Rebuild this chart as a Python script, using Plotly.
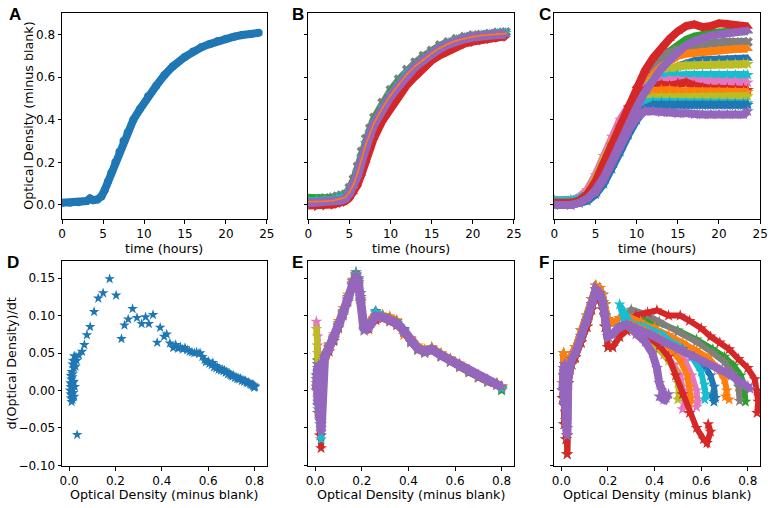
import plotly.graph_objects as go

BLUE, ORANGE, GREEN, RED, PURPLE = '#1f77b4', '#ff7f0e', '#2ca02c', '#d62728', '#9467bd'
BROWN, PINK, GRAY, OLIVE, CYAN = '#8c564b', '#e377c2', '#7f7f7f', '#bcbd22', '#17becf'

# ---- panel A: one well, OD vs time
a_time = [0, 1, 2, 3, 3.4, 3.8, 4.3, 4.8, 5.2, 5.6, 6, 6.5, 7, 7.5, 8, 8.7, 9.5, 10.5,
          11.5, 12.5, 13.5, 15, 16, 17, 18, 19, 20, 21, 22, 23, 24]
a_od = [0.010, 0.010, 0.012, 0.018, 0.030, 0.022, 0.025, 0.040, 0.070, 0.110, 0.150, 0.200,
        0.250, 0.300, 0.340, 0.400, 0.450, 0.510, 0.560, 0.610, 0.650, 0.695, 0.720, 0.740,
        0.755, 0.770, 0.780, 0.790, 0.798, 0.803, 0.808]

# ---- panel B: replicate wells
b_time = [0, 1, 2, 3, 3.5, 4, 4.5, 5, 5.5, 6, 6.5, 7, 7.5, 8, 9, 10, 11, 12, 13, 14, 15,
          16, 17, 18, 19, 20, 21, 22, 23, 24]
b_gray = [0.03, 0.03, 0.032, 0.035, 0.04, 0.045, 0.05, 0.08, 0.12, 0.18, 0.25, 0.31, 0.36, 0.41,
          0.48, 0.54, 0.59, 0.635, 0.67, 0.70, 0.725, 0.75, 0.765, 0.78, 0.79, 0.797, 0.80, 0.805,
          0.81, 0.812]
b_green = [0.035, 0.032, 0.03, 0.03, 0.035, 0.04, 0.045, 0.07, 0.11, 0.165, 0.235, 0.30, 0.35,
           0.40, 0.47, 0.53, 0.58, 0.625, 0.66, 0.69, 0.72, 0.745, 0.76, 0.775, 0.785, 0.79,
           0.797, 0.80, 0.805, 0.81]
b_red = [-0.005, -0.005, -0.003, 0.0, 0.005, 0.01, 0.015, 0.03, 0.055, 0.09, 0.14, 0.20, 0.26,
         0.31, 0.39, 0.45, 0.51, 0.56, 0.60, 0.64, 0.675, 0.70, 0.72, 0.74, 0.755, 0.765, 0.773,
         0.78, 0.785, 0.79]
b_cyan = [0.02, 0.02, 0.022, 0.025, 0.03, 0.035, 0.04, 0.065, 0.10, 0.155, 0.225, 0.29, 0.34,
          0.39, 0.46, 0.52, 0.57, 0.62, 0.655, 0.685, 0.715, 0.74, 0.76, 0.775, 0.785, 0.79,
          0.797, 0.80, 0.805, 0.808]
b_purple = [0.01, 0.01, 0.012, 0.015, 0.02, 0.022, 0.03, 0.055, 0.09, 0.14, 0.21, 0.28, 0.33,
            0.38, 0.45, 0.51, 0.56, 0.61, 0.65, 0.68, 0.71, 0.735, 0.755, 0.77, 0.78, 0.788,
            0.794, 0.798, 0.80, 0.80]
b_orange = [0.015, 0.015, 0.017, 0.02, 0.025, 0.03, 0.035, 0.06, 0.095, 0.15, 0.22, 0.285, 0.335,
            0.385, 0.455, 0.515, 0.565, 0.615, 0.652, 0.682, 0.712, 0.737, 0.757, 0.772, 0.782,
            0.79, 0.796, 0.80, 0.803, 0.805]

# ---- panel C: wells under different conditions
c_time = [0, 2, 3, 4, 5, 6, 7, 8, 9, 10, 11, 12, 13, 14, 15, 16, 17, 18, 19, 20, 21, 22, 23, 23.5]
c_series = [
    (GREEN, 'triangle-up', [0.02, 0.02, 0.025, 0.04, 0.09, 0.17, 0.26, 0.35, 0.43, 0.51, 0.57, 0.63, 0.68, 0.72, 0.75, 0.775, 0.79, 0.80, 0.805, 0.81, 0.815, 0.815, 0.815, 0.815]),
    (GRAY, 'x', [0.02, 0.02, 0.03, 0.05, 0.10, 0.18, 0.27, 0.36, 0.44, 0.51, 0.58, 0.64, 0.69, 0.715, 0.73, 0.74, 0.75, 0.755, 0.76, 0.762, 0.765, 0.765, 0.765, 0.765]),
    (ORANGE, 'triangle-up', [0.01, 0.015, 0.02, 0.04, 0.09, 0.17, 0.26, 0.35, 0.43, 0.50, 0.56, 0.61, 0.65, 0.68, 0.70, 0.71, 0.715, 0.72, 0.725, 0.728, 0.73, 0.732, 0.733, 0.733]),
    (BLUE, 'triangle-up', [0.0, 0.005, 0.01, 0.02, 0.05, 0.11, 0.19, 0.27, 0.35, 0.43, 0.50, 0.56, 0.60, 0.63, 0.65, 0.665, 0.675, 0.68, 0.682, 0.685, 0.685, 0.687, 0.688, 0.688]),
    (OLIVE, 'star', [0.01, 0.015, 0.025, 0.05, 0.10, 0.18, 0.27, 0.35, 0.43, 0.50, 0.55, 0.59, 0.62, 0.64, 0.65, 0.655, 0.655, 0.66, 0.66, 0.66, 0.66, 0.66, 0.662, 0.662]),
    (CYAN, 'star', [0.02, 0.02, 0.03, 0.05, 0.10, 0.18, 0.27, 0.36, 0.44, 0.50, 0.55, 0.58, 0.60, 0.605, 0.61, 0.61, 0.61, 0.612, 0.612, 0.61, 0.61, 0.61, 0.61, 0.61]),
    (PINK, 'star', [0.02, 0.02, 0.035, 0.07, 0.14, 0.23, 0.32, 0.40, 0.46, 0.51, 0.55, 0.57, 0.58, 0.585, 0.585, 0.58, 0.58, 0.58, 0.58, 0.578, 0.578, 0.578, 0.575, 0.575]),
    (RED, 'star', [0.0, 0.0, 0.01, 0.04, 0.10, 0.19, 0.28, 0.37, 0.44, 0.50, 0.54, 0.56, 0.565, 0.56, 0.57, 0.575, 0.56, 0.55, 0.545, 0.545, 0.545, 0.545, 0.545, 0.54]),
    (ORANGE, 'star', [0.01, 0.01, 0.025, 0.05, 0.11, 0.20, 0.29, 0.37, 0.43, 0.48, 0.52, 0.535, 0.54, 0.54, 0.535, 0.535, 0.53, 0.53, 0.53, 0.53, 0.53, 0.53, 0.53, 0.53]),
    (OLIVE, 'star', [0.01, 0.015, 0.025, 0.055, 0.12, 0.21, 0.30, 0.37, 0.43, 0.47, 0.50, 0.505, 0.505, 0.505, 0.505, 0.505, 0.505, 0.505, 0.505, 0.505, 0.505, 0.505, 0.505, 0.51]),
    (CYAN, 'star', [0.02, 0.02, 0.03, 0.05, 0.10, 0.18, 0.26, 0.34, 0.41, 0.46, 0.48, 0.485, 0.485, 0.485, 0.48, 0.48, 0.48, 0.48, 0.48, 0.48, 0.478, 0.478, 0.478, 0.478]),
    (BLUE, 'star', [0.0, 0.005, 0.01, 0.02, 0.05, 0.10, 0.17, 0.25, 0.33, 0.40, 0.45, 0.47, 0.47, 0.47, 0.47, 0.468, 0.468, 0.468, 0.468, 0.468, 0.468, 0.468, 0.468, 0.47]),
    (PURPLE, 'star', [0.0, 0.0, 0.01, 0.03, 0.06, 0.12, 0.20, 0.28, 0.35, 0.41, 0.44, 0.44, 0.435, 0.435, 0.43, 0.43, 0.425, 0.425, 0.425, 0.425, 0.425, 0.425, 0.425, 0.44]),
    (RED, 'triangle-up', [0.01, 0.01, 0.02, 0.05, 0.11, 0.20, 0.29, 0.38, 0.47, 0.56, 0.63, 0.69, 0.74, 0.78, 0.815, 0.84, 0.848, 0.835, 0.84, 0.853, 0.85, 0.842, 0.84, 0.838]),
    (PURPLE, 'triangle-up', [0.0, 0.0, 0.01, 0.03, 0.07, 0.13, 0.21, 0.30, 0.38, 0.46, 0.53, 0.59, 0.64, 0.68, 0.72, 0.75, 0.77, 0.785, 0.795, 0.80, 0.807, 0.812, 0.816, 0.818]),
]

# ---- panel D: growth rate vs OD for well in A
d_od = [0.005, 0.006, 0.007, 0.008, 0.008, 0.009, 0.01, 0.01, 0.011, 0.012, 0.012, 0.013, 0.014,
        0.015, 0.015, 0.016, 0.017, 0.018, 0.02, 0.02, 0.022, 0.025, 0.015, 0.018,
        0.022, 0.025, 0.03, 0.028, 0.033, 0.043, 0.056, 0.066, 0.077, 0.091, 0.108, 0.126, 0.147,
        0.175, 0.203, 0.035,
        0.226, 0.239, 0.255, 0.274, 0.293, 0.313, 0.330, 0.344, 0.362, 0.380, 0.393, 0.410, 0.421,
        0.435, 0.449,
        0.46, 0.47, 0.48, 0.49, 0.50, 0.51, 0.52, 0.53, 0.54, 0.55, 0.56, 0.565, 0.575, 0.585,
        0.59, 0.60, 0.605, 0.615, 0.62, 0.625, 0.63, 0.635, 0.64, 0.645, 0.65, 0.655, 0.66, 0.665,
        0.67, 0.675, 0.68, 0.685, 0.69, 0.695, 0.70, 0.705, 0.71, 0.715, 0.72, 0.725, 0.73, 0.735,
        0.74, 0.745, 0.75, 0.755, 0.76, 0.765, 0.77, 0.775, 0.78, 0.785, 0.79, 0.793, 0.796,
        0.798, 0.80, 0.802]
d_rate = [0.0, 0.01, -0.005, 0.02, 0.005, -0.01, 0.015, 0.0, -0.015, 0.025, 0.008, -0.005, 0.018,
          0.003, -0.012, 0.022, 0.01, -0.003, 0.012, 0.03, -0.008, 0.005, 0.035, 0.04,
          0.046, 0.038, 0.045, 0.032, 0.04, 0.047, 0.052, 0.061, 0.074, 0.085, 0.105, 0.123, 0.130,
          0.149, 0.127, -0.059,
          0.069, 0.087, 0.095, 0.109, 0.097, 0.089, 0.098, 0.089, 0.101, 0.064, 0.084, 0.072, 0.075,
          0.063, 0.057,
          0.061, 0.056, 0.058, 0.055, 0.057, 0.054, 0.052, 0.051, 0.050, 0.051, 0.049, 0.05, 0.045,
          0.041, 0.038, 0.039, 0.036, 0.034, 0.037, 0.031, 0.033, 0.03, 0.031, 0.028, 0.029, 0.027,
          0.028, 0.026, 0.027, 0.024, 0.025, 0.022, 0.023, 0.021, 0.02, 0.019, 0.02, 0.017, 0.018,
          0.016, 0.016, 0.015, 0.016, 0.013, 0.014, 0.012, 0.013, 0.011, 0.01, 0.011, 0.009, 0.008,
          0.008, 0.006, 0.007, 0.004, 0.006, 0.005]

# ---- panel E: growth rate vs OD for replicate wells
e_od = [0.005, 0.01, 0.012, 0.015, 0.02, 0.022, 0.025, 0.03, 0.04, 0.06, 0.08, 0.10, 0.12, 0.14,
        0.16, 0.175, 0.185, 0.195, 0.21, 0.23, 0.26, 0.29, 0.32, 0.35, 0.38, 0.41, 0.44, 0.47,
        0.50, 0.54, 0.58, 0.62, 0.66, 0.70, 0.74, 0.78, 0.80]
e_series = [
    (BLUE, [0.02, 0.035, -0.02, 0.04, -0.035, 0.02, -0.06, 0.03, 0.047, 0.057, 0.068, 0.085, 0.102, 0.12, 0.141, 0.158, 0.15, 0.13, 0.088, 0.09, 0.106, 0.1, 0.097, 0.093, 0.082, 0.068, 0.057, 0.053, 0.057, 0.049, 0.042, 0.034, 0.027, 0.02, 0.014, 0.009, 0.002]),
    (ORANGE, [0.01, 0.06, -0.01, 0.03, -0.03, 0.04, -0.045, 0.035, 0.05, 0.062, 0.075, 0.093, 0.11, 0.128, 0.148, 0.156, 0.14, 0.115, 0.085, 0.092, 0.104, 0.101, 0.099, 0.094, 0.074, 0.07, 0.06, 0.055, 0.058, 0.05, 0.043, 0.036, 0.028, 0.021, 0.015, 0.01, 0.006]),
    (GREEN, [0.015, 0.04, -0.015, 0.025, -0.035, 0.03, -0.05, 0.025, 0.048, 0.06, 0.072, 0.09, 0.106, 0.125, 0.146, 0.155, 0.142, 0.118, 0.083, 0.088, 0.1, 0.099, 0.096, 0.091, 0.081, 0.067, 0.057, 0.053, 0.056, 0.048, 0.041, 0.034, 0.027, 0.02, 0.014, 0.009, 0.0]),
    (RED, [0.005, 0.02, -0.03, 0.01, -0.06, 0.0, -0.077, 0.01, 0.04, 0.052, 0.066, 0.083, 0.1, 0.118, 0.14, 0.152, 0.148, 0.125, 0.09, 0.082, 0.094, 0.096, 0.092, 0.087, 0.078, 0.064, 0.054, 0.05, 0.053, 0.045, 0.038, 0.031, 0.024, 0.017, 0.011, 0.007, 0.004]),
    (PINK, [0.092, 0.072, 0.01, 0.03, -0.02, 0.02, -0.04, 0.025, 0.046, 0.059, 0.071, 0.088, 0.105, 0.123, 0.144, 0.153, 0.144, 0.119, 0.081, 0.086, 0.1, 0.097, 0.094, 0.089, 0.079, 0.066, 0.056, 0.052, 0.055, 0.047, 0.04, 0.033, 0.026, 0.019, 0.013, 0.008, 0.005]),
    (OLIVE, [0.082, 0.05, -0.01, 0.03, -0.03, 0.02, -0.045, 0.02, 0.045, 0.058, 0.07, 0.087, 0.104, 0.122, 0.143, 0.154, 0.145, 0.12, 0.08, 0.085, 0.099, 0.098, 0.095, 0.09, 0.08, 0.066, 0.056, 0.052, 0.055, 0.047, 0.04, 0.033, 0.026, 0.019, 0.013, 0.008, 0.005]),
    (CYAN, [0.0, 0.025, -0.025, 0.02, -0.045, 0.01, -0.065, 0.015, 0.042, 0.056, 0.069, 0.086, 0.103, 0.121, 0.142, 0.155, 0.147, 0.122, 0.082, 0.087, 0.104, 0.1, 0.094, 0.09, 0.079, 0.065, 0.055, 0.051, 0.054, 0.046, 0.039, 0.032, 0.025, 0.018, 0.012, 0.008, 0.003]),
    (PURPLE, [0.0, 0.03, -0.02, 0.035, -0.04, 0.015, -0.055, 0.02, 0.045, 0.058, 0.07, 0.087, 0.104, 0.122, 0.143, 0.154, 0.145, 0.12, 0.08, 0.085, 0.099, 0.098, 0.095, 0.09, 0.08, 0.066, 0.056, 0.052, 0.055, 0.047, 0.04, 0.033, 0.026, 0.019, 0.013, 0.008, 0.005]),
]

# ---- panel F: growth rate vs OD for condition wells (early part + own tail)
f_head_od = [0.005, 0.01, 0.012, 0.015, 0.02, 0.022, 0.025, 0.03, 0.045, 0.06, 0.085, 0.11,
             0.13, 0.148, 0.165, 0.178, 0.188, 0.2, 0.22, 0.25, 0.28]
f_head_mid = [0.0, 0.03, -0.02, 0.035, -0.04, 0.01, -0.06, 0.02, 0.042, 0.05, 0.072, 0.092,
              0.115, 0.135, 0.13, 0.118, 0.1, 0.072, 0.075, 0.085, 0.088]
f_head_hi = [0.01, 0.05, -0.01, 0.045, -0.03, 0.02, -0.05, 0.03, 0.05, 0.058, 0.08, 0.1,
             0.122, 0.14, 0.137, 0.128, 0.115, 0.095, 0.09, 0.097, 0.1]
f_head_lo = [-0.01, 0.02, -0.045, 0.025, -0.065, 0.0, -0.085, 0.01, 0.035, 0.044, 0.064, 0.085,
             0.108, 0.128, 0.122, 0.108, 0.085, 0.058, 0.058, 0.072, 0.08]
f_series = [
    (GREEN, f_head_hi, [0.34, 0.42, 0.50, 0.58, 0.65, 0.70, 0.74, 0.77, 0.785, 0.79],
     [0.095, 0.09, 0.08, 0.068, 0.055, 0.045, 0.033, 0.02, 0.005, -0.015]),
    (GRAY, f_head_hi, [0.30, 0.36, 0.42, 0.50, 0.58, 0.65, 0.70, 0.74, 0.76, 0.765],
     [0.108, 0.102, 0.092, 0.078, 0.065, 0.05, 0.038, 0.022, 0.005, -0.014]),
    (RED, f_head_mid, [0.32, 0.37, 0.41, 0.46, 0.51, 0.55, 0.60, 0.64, 0.68, 0.72, 0.76, 0.80, 0.83, 0.84, 0.845, 0.84],
     [0.1, 0.104, 0.107, 0.1, 0.1, 0.093, 0.083, 0.072, 0.064, 0.055, 0.042, 0.03, 0.015, 0.0, -0.015, -0.03]),
    (ORANGE, f_head_hi, [0.34, 0.40, 0.46, 0.52, 0.58, 0.63, 0.67, 0.70, 0.71, 0.705, 0.72],
     [0.092, 0.084, 0.074, 0.064, 0.054, 0.044, 0.03, 0.015, 0.0, -0.008, -0.012]),
    (BLUE, f_head_lo, [0.34, 0.40, 0.46, 0.52, 0.57, 0.61, 0.64, 0.655, 0.66, 0.655, 0.645],
     [0.084, 0.076, 0.065, 0.055, 0.045, 0.035, 0.02, 0.005, -0.01, -0.015, -0.005]),
    (CYAN, f_head_lo, [0.25, 0.30, 0.36, 0.43, 0.50, 0.56, 0.60, 0.615, 0.62, 0.615],
     [0.115, 0.09, 0.085, 0.075, 0.06, 0.045, 0.025, 0.008, -0.005, -0.012]),
    (PINK, f_head_mid, [0.30, 0.36, 0.42, 0.48, 0.53, 0.56, 0.58, 0.585, 0.58],
     [0.085, 0.078, 0.068, 0.055, 0.04, 0.02, 0.0, -0.015, -0.022]),
    (ORANGE, f_head_mid, [0.30, 0.36, 0.42, 0.47, 0.51, 0.54, 0.55, 0.555, 0.55],
     [0.088, 0.08, 0.07, 0.055, 0.04, 0.02, 0.005, -0.01, -0.018]),
    (PINK, f_head_lo, [0.30, 0.35, 0.40, 0.44, 0.48, 0.51, 0.525, 0.53, 0.52],
     [0.08, 0.07, 0.06, 0.048, 0.035, 0.02, 0.0, -0.015, -0.025]),
    (OLIVE, f_head_lo, [0.28, 0.33, 0.38, 0.42, 0.46, 0.49, 0.50, 0.505, 0.50],
     [0.082, 0.075, 0.065, 0.055, 0.04, 0.025, 0.01, -0.005, -0.012]),
    (RED, f_head_lo, [0.30, 0.36, 0.42, 0.46, 0.49, 0.52, 0.55, 0.58, 0.61, 0.625, 0.64, 0.63],
     [0.085, 0.075, 0.06, 0.045, 0.02, -0.005, -0.03, -0.05, -0.065, -0.07, -0.055, -0.045]),
    (PURPLE, f_head_mid, [0.32, 0.38, 0.44, 0.50, 0.56, 0.62, 0.68, 0.73, 0.77, 0.80, 0.81],
     [0.083, 0.075, 0.065, 0.055, 0.046, 0.037, 0.028, 0.02, 0.012, 0.006, 0.002]),
    (PURPLE, f_head_mid, [0.32, 0.36, 0.39, 0.41, 0.42, 0.43, 0.44, 0.45, 0.46, 0.44, 0.42],
     [0.075, 0.065, 0.05, 0.03, 0.01, 0.0, -0.005, -0.01, -0.005, -0.012, -0.008]),
]

fig = go.Figure()


def add(x, y, ax, color, symbol, lw, ms, mode='lines+markers'):
    fig.add_trace(go.Scatter(x=x, y=y, xaxis='x' + ax, yaxis='y' + ax, mode=mode,
                             line=dict(color=color, width=lw),
                             marker=dict(color=color, symbol=symbol, size=ms, line=dict(width=0)),
                             showlegend=False, hoverinfo='skip'))


add(a_time, a_od, '', BLUE, 'circle', 8, 8)

for col, sym, vals in [(GRAY, 'x', b_gray), (GREEN, 'triangle-up', b_green), (RED, 'triangle-right', b_red),
                       (CYAN, 'star', b_cyan), (PURPLE, 'triangle-up', b_purple)]:
    add(b_time, vals, '2', col, sym, 9 if col == PURPLE else 7, 9)
add(b_time, b_orange, '2', ORANGE, 'circle', 1.5, 2)

for col, sym, vals in c_series:
    add(c_time, vals, '3', col, sym, 8, 9)

add(d_od, d_rate, '4', BLUE, 'star', 0, 8, mode='markers')

for col, vals in e_series:
    add(e_od, vals, '5', col, 'star', 9 if col == PURPLE else 6, 9)

for col, head, tx, ty in f_series:
    add(f_head_od + tx, head + ty, '6', col, 'star', 8 if col == PURPLE else 6, 9)

W, H = 777, 508
cols = [(59, 267), (309, 518), (559, 768)]
rows = [(13, 222), (264, 472)]
TICK, LAB = 12, 12.7

axis_style = dict(showline=True, mirror=True, linecolor='black', linewidth=1, ticks='outside',
                  ticklen=3.5, tickwidth=1, tickcolor='black', showgrid=False, zeroline=False,
                  tickfont=dict(size=TICK, color='black'))

layout = dict(width=W, height=H, margin=dict(l=0, r=0, t=0, b=0),
              paper_bgcolor='white', plot_bgcolor='white',
              font=dict(family='DejaVu Sans', size=TICK, color='black'))

names = ['', '2', '3', '4', '5', '6']
for i, n in enumerate(names):
    r, c = divmod(i, 3)
    xd = [cols[c][0] / W, cols[c][1] / W]
    yd = [1 - rows[r][1] / H, 1 - rows[r][0] / H]
    xa = dict(axis_style, domain=xd, anchor='y' + n)
    ya = dict(axis_style, domain=yd, anchor='x' + n)
    if r == 0:
        xa.update(range=[0, 25], tickvals=[0, 5, 10, 15, 20, 25])
        ya.update(range=[-0.068, 0.902], tickvals=[0, 0.2, 0.4, 0.6, 0.8], tickformat='.1f')
    else:
        xa.update(range=[-0.03, 0.853], tickvals=[0, 0.2, 0.4, 0.6, 0.8], tickformat='.1f')
        ya.update(range=[-0.1013, 0.173], tickvals=[-0.10, -0.05, 0, 0.05, 0.10, 0.15], tickformat='.2f')
    if c != 0:
        ya['showticklabels'] = False
    layout['xaxis' + n] = xa
    layout['yaxis' + n] = ya


def label(text, x, y, angle=0, size=LAB, bold=False, family='DejaVu Sans', xanchor='center', yanchor='middle'):
    return dict(text='<b>%s</b>' % text if bold else text, x=x / W, y=1 - y / H,
                xref='paper', yref='paper', xanchor=xanchor, yanchor=yanchor, textangle=angle,
                showarrow=False, font=dict(family=family, size=size, color='black'))


ann = []
for t, x, y in [('A', 3, 3), ('B', 290, 3), ('C', 541, 3), ('D', 1, 254), ('E', 290, 254), ('F', 541, 254)]:
    ann.append(label(t, x, y, size=17, bold=True, family='Liberation Sans', xanchor='left', yanchor='top'))
for c in cols:
    ann.append(label('time (hours)', (c[0] + c[1]) / 2, 251))
    ann.append(label('Optical Density (minus blank)', (c[0] + c[1]) / 2, 500.5))
ann.append(label('Optical Density (minus blank)', 24, 117.5, angle=-90))
ann.append(label('d(Optical Density)/dt', 8, 368, angle=-90))
layout['annotations'] = ann

fig.update_layout(layout)
# drop the page's default body margin so the figure sits at the window's corner
fig.write_html("out.html", config={'displayModeBar': False},
               post_script="document.body.style.margin='0';")
